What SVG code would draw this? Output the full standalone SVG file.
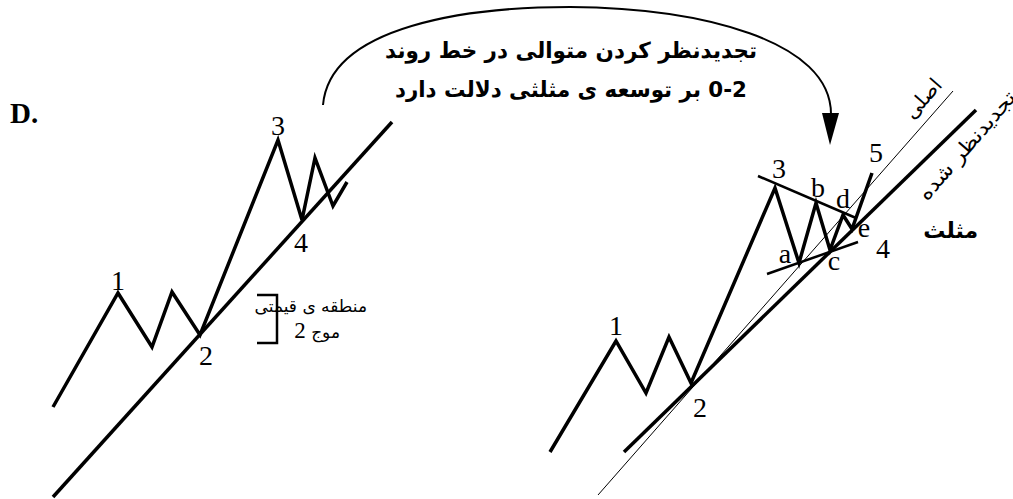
<svg xmlns="http://www.w3.org/2000/svg" width="1013" height="499" viewBox="0 0 1013 499">
<style>
.w{fill:none;stroke:#000;stroke-width:3.5;stroke-linejoin:miter;stroke-linecap:butt}
.t{fill:none;stroke:#000;stroke-width:1}
.m{fill:none;stroke:#000;stroke-width:2.5}
.n{font-family:"Liberation Serif",serif;font-size:28px;fill:#000;text-anchor:middle}
.fa{font-family:"DejaVu Sans",sans-serif;fill:#000}
</style>
<rect width="1013" height="499" fill="#fff"/>
<text x="10" y="123" font-family="Liberation Serif" font-weight="bold" font-size="29">D.</text>

<g id="left-chart">
<polyline class="w" points="53,407 118,293 152,347 172,292 200,335 278,140 302,220 315,158 333,206 347,182"/>
<line class="w" x1="53" y1="497" x2="392" y2="122"/>
<text class="n" x="118" y="290">1</text>
<text class="n" x="206" y="365">2</text>
<text class="n" x="278" y="135">3</text>
<text class="n" x="301" y="252">4</text>
</g>

<g id="price-zone">
<polyline fill="none" stroke="#000" stroke-width="2.5" points="257,295 277,295 277,343 257,343"/>
<text class="fa" x="367" y="312" font-size="17" direction="rtl" text-anchor="start">منطقه ی قیمتی</text>
<text class="fa" x="340" y="338" font-size="17" direction="rtl" text-anchor="start">موج <tspan font-family="Liberation Serif" font-size="23">2</tspan></text>
</g>

<g id="connectors">
<path d="M323,105 C330,25 470,7 570,7 C700,8 832,40 831,115" fill="none" stroke="#000" stroke-width="2"/>
<polygon points="822,113 839,113 830,145" fill="#000"/>
</g>

<g id="note">
<text class="fa" x="757" y="58" font-size="22" font-weight="bold" direction="rtl" text-anchor="start" textLength="372" lengthAdjust="spacingAndGlyphs">تجدیدنظر کردن متوالی در خط روند</text>
<text class="fa" x="747" y="97" font-size="22" font-weight="bold" direction="rtl" text-anchor="start" textLength="352" lengthAdjust="spacingAndGlyphs">0-2 بر توسعه ی مثلثی دلالت دارد</text>
</g>

<g id="right-chart">
<line class="t" x1="598" y1="495" x2="953" y2="91"/>
<line class="w" x1="624" y1="452" x2="976" y2="110"/>
<line class="m" x1="758" y1="176" x2="856" y2="218"/>
<line class="m" x1="767" y1="274" x2="858" y2="242"/>
<polyline class="w" points="550,452 616,341 646,393 669,337 691,383 775,188 799,263 816,203 830,250 843,215 852,229 872,173"/>
<text class="n" x="616" y="335">1</text>
<text class="n" x="700" y="417">2</text>
<text class="n" x="779" y="178">3</text>
<text class="n" x="883" y="258">4</text>
<text class="n" x="876" y="162">5</text>
<text class="n" x="785" y="263">a</text>
<text class="n" x="818" y="197">b</text>
<text class="n" x="834" y="270">c</text>
<text class="n" x="843" y="208">d</text>
<text class="n" x="864" y="237">e</text>
</g>

<g id="line-labels">
<text class="fa" font-size="20" direction="rtl" text-anchor="middle" transform="translate(928,103) rotate(-49)">اصلی</text>
<text class="fa" font-size="20" direction="rtl" text-anchor="middle" transform="translate(972,150) rotate(-49)" textLength="137" lengthAdjust="spacingAndGlyphs">تجدیدنظر شده</text>
<text class="fa" x="978" y="238" font-size="22" font-weight="bold" direction="rtl" text-anchor="start">مثلث</text>
</g>
</svg>
